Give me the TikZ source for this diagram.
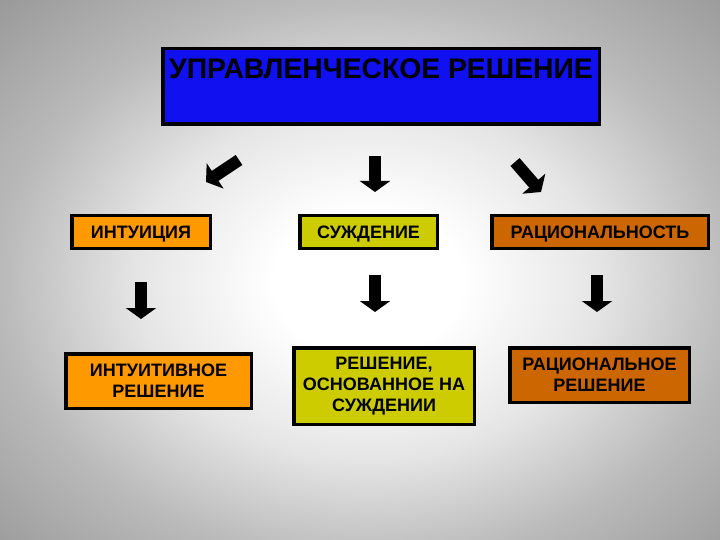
\documentclass[tikz,border=0pt]{standalone}
\usepackage{fontspec}
\setmainfont{Liberation Sans}
\usetikzlibrary{arrows.meta}
\pgfdeclareradialshading{bgshade}{\pgfpoint{0bp}{0bp}}{color(0bp)=(white); color(9bp)=(white); color(22bp)=(black!10); color(35bp)=(black!27); color(50bp)=(black!40)}
\definecolor{topblue}{RGB}{16,16,240}
\definecolor{boxorange}{RGB}{255,153,0}
\definecolor{boxyellow}{RGB}{204,204,0}
\definecolor{boxdark}{RGB}{204,102,0}
\begin{document}
\begin{tikzpicture}[x=1pt,y=-1pt,
  box/.style={draw=black, line width=3.5pt, inner sep=0pt, align=center,
    font=\bfseries\fontsize{18}{21}\selectfont},
  onebox/.style={box, text height=13pt, text depth=0pt},
  blockarrow/.style={line width=12pt, -{Triangle[width=30pt,length=11pt]}}]
\useasboundingbox (0,0) rectangle (720,540);
\begin{scope}
\clip (0,0) rectangle (720,540);
\node[inner sep=0pt, outer sep=0pt, xscale=10.4, yscale=8.0, transform shape] (bg) at (368,282) {\pgfuseshading{bgshade}};
\end{scope}

% top box
\node[box, fill=topblue, minimum width=436.5pt, minimum height=75.5pt] (top) at (381,86.5) {};
\node[anchor=base, font=\bfseries\fontsize{28.3}{30}\selectfont] (title) at (381,78.5) {УПРАВЛЕНЧЕСКОЕ РЕШЕНИЕ};

% second row
\node[onebox, fill=boxorange, minimum width=138.5pt, minimum height=32.5pt] (intu) at (141,232) {ИНТУИЦИЯ};
\node[onebox, fill=boxyellow, minimum width=137.5pt, minimum height=32.5pt] (judg) at (368.5,232) {СУЖДЕНИЕ};
\node[onebox, fill=boxdark, minimum width=216.5pt, minimum height=32.5pt] (rati) at (600,232) {РАЦИОНАЛЬНОСТЬ};

% third row
\node[box, fill=boxorange, minimum width=185.5pt, minimum height=54.5pt] (intres) at (158.5,381) {ИНТУИТИВНОЕ\\РЕШЕНИЕ};
\node[box, fill=boxyellow, minimum width=180.5pt, minimum height=76.5pt] (judres) at (384,386) {РЕШЕНИЕ,\\ОСНОВАННОЕ НА\\СУЖДЕНИИ};
\node[box, fill=boxdark, minimum width=179.5pt, minimum height=54.5pt] (ratres) at (599.5,375) {РАЦИОНАЛЬНОЕ\\РЕШЕНИЕ};

% arrow end points
\coordinate (a1s) at (239,160); \coordinate (a1e) at (206,182);
\coordinate (a2s) at (375,156); \coordinate (a2e) at (375,192);
\coordinate (a3s) at (515,162); \coordinate (a3e) at (541,192);
\coordinate (b1s) at (141,282); \coordinate (b1e) at (141,319);
\coordinate (b2s) at (375,275); \coordinate (b2e) at (375,312);
\coordinate (b3s) at (597,275); \coordinate (b3e) at (597,312);

\draw[blockarrow] (a1s) -- (a1e);
\draw[blockarrow] (a2s) -- (a2e);
\draw[blockarrow] (a3s) -- (a3e);
\draw[blockarrow] (b1s) -- (b1e);
\draw[blockarrow] (b2s) -- (b2e);
\draw[blockarrow] (b3s) -- (b3e);
\end{tikzpicture}
\end{document}
